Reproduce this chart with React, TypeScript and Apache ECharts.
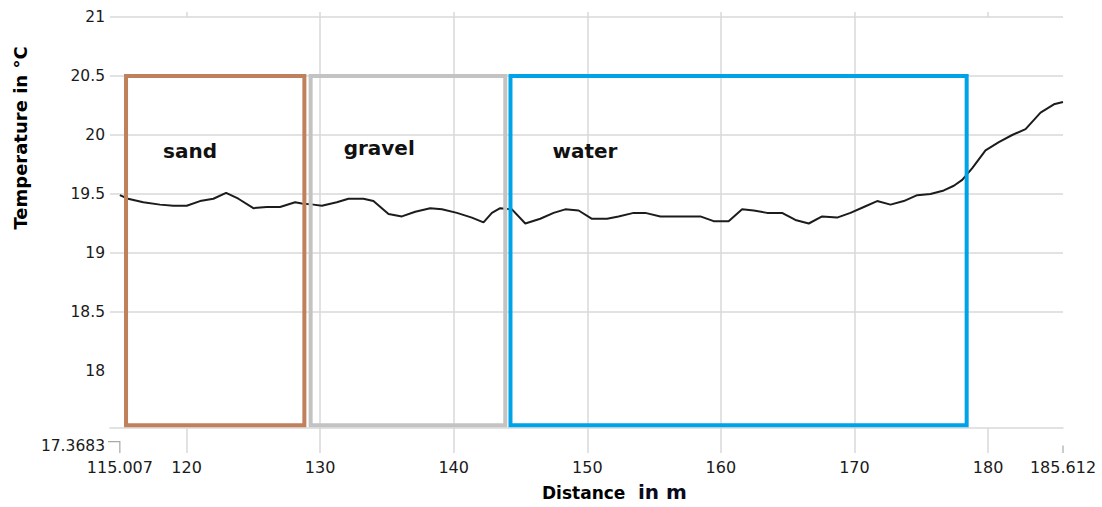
import React, { useEffect, useRef } from "react";
import * as echarts from "echarts";

// ---- data ----
const distance = [
  115.007, 115.62, 116.76, 118.01, 119.01, 120.01, 121.01, 122.01, 122.96, 123.88,
  125.0, 126.0, 127.0, 128.13, 128.63, 129.5, 130.13, 131.25, 132.12, 133.24,
  133.99, 135.12, 136.12, 137.12, 138.24, 139.12, 140.24, 141.36, 142.23, 142.86,
  143.48, 144.36, 145.36, 146.48, 147.48, 148.35, 149.35, 150.35, 151.48, 152.34,
  153.47, 154.34, 155.47, 156.46, 157.46, 158.46, 159.46, 160.58, 161.59, 162.46,
  163.46, 164.58, 165.58, 166.58, 167.58, 168.7, 169.7, 170.7, 171.7, 172.7,
  173.69, 174.7, 175.69, 176.69, 177.44, 178.07, 178.82, 179.81, 180.81, 181.81,
  182.81, 183.93, 184.93, 185.612,
];
const temperature = [
  19.49, 19.46, 19.43, 19.41, 19.4, 19.4, 19.44, 19.46, 19.51, 19.46,
  19.38, 19.39, 19.39, 19.43, 19.42, 19.41, 19.4, 19.43, 19.46, 19.46,
  19.44, 19.33, 19.31, 19.35, 19.38, 19.37, 19.34, 19.3, 19.26, 19.34,
  19.38, 19.37, 19.25, 19.29, 19.34, 19.37, 19.36, 19.29, 19.29, 19.31,
  19.34, 19.34, 19.31, 19.31, 19.31, 19.31, 19.27, 19.27, 19.37, 19.36,
  19.34, 19.34, 19.28, 19.25, 19.31, 19.3, 19.34, 19.39, 19.44, 19.41,
  19.44, 19.49, 19.5, 19.53, 19.57, 19.62, 19.72, 19.87, 19.94, 20.0,
  20.05, 20.19, 20.26, 20.28,
];
const xTicks = [120, 130, 140, 150, 160, 170, 180];
const yTicks = [18, 18.5, 19, 19.5, 20, 20.5, 21];
const X_DATA_MIN = 115.007;
const X_DATA_MAX = 185.612;
const Y_DATA_MIN = 17.3683;
const X_AXIS_MIN = 114.27;
const X_AXIS_MAX = 185.612;
const Y_AXIS_MIN = 17.517;
const Y_AXIS_MAX = 21;

const zoneNames = ["sand", "gravel", "water"];
const zoneStart = [115.47, 129.29, 144.25];
const zoneEnd = [128.82, 143.86, 178.4];
const zoneTop = [20.5, 20.5, 20.5];
const zoneBottom = [17.54, 17.54, 17.54];

const yTitle = "Temperature in °C";
const xTitleA = "Distance";
const xTitleB = "in m";

// ---- styles ----
const zoneColors = ["#c0805c", "#c3c3c3", "#00a2e8"];
const zoneLabelDx = [37, 33, 42];
const zoneLabelDy = [75, 72, 75];
const GRID_COLOR = "#d9d9d9";
const FONT = "DejaVu Sans";
const TEXT_COLOR = "#1a1a1a";

export default function App() {
  const ref = useRef<HTMLDivElement>(null);

  useEffect(() => {
    document.body.style.margin = "0";
    const chart = echarts.init(ref.current!, null, { renderer: "svg" });
    const option: any = {
      animation: false,
      grid: { left: 110, right: 39, top: 17, bottom: 79 },
      xAxis: [
        {
          type: "value",
          min: X_AXIS_MIN,
          max: X_AXIS_MAX,
          axisLine: { show: true, lineStyle: { color: GRID_COLOR, width: 1.5 } },
          axisTick: {
            show: true,
            inside: false,
            length: 25,
            customValues: xTicks,
            lineStyle: { color: GRID_COLOR, width: 1.5 },
          },
          axisLabel: {
            customValues: xTicks,
            margin: 31,
            fontFamily: FONT,
            fontSize: 16,
            color: TEXT_COLOR,
          },
          splitLine: {
            show: true,
            showMinLine: false,
            showMaxLine: false,
            lineStyle: { color: GRID_COLOR, width: 1.5 },
          },
        },
        {
          type: "value",
          position: "top",
          min: X_AXIS_MIN,
          max: X_AXIS_MAX,
          axisLine: { show: false },
          axisTick: {
            show: true,
            inside: false,
            length: 5,
            customValues: xTicks,
            lineStyle: { color: GRID_COLOR, width: 1.5 },
          },
          axisLabel: { show: false },
          splitLine: { show: false },
        },
      ],
      yAxis: {
        type: "value",
        min: Y_AXIS_MIN,
        max: Y_AXIS_MAX,
        axisLine: { show: false },
        axisTick: { show: false, customValues: yTicks },
        axisLabel: {
          customValues: yTicks,
          margin: 5,
          fontFamily: FONT,
          fontSize: 15.5,
          color: TEXT_COLOR,
        },
        splitLine: {
          show: true,
          showMinLine: false,
          showMaxLine: true,
          lineStyle: { color: GRID_COLOR, width: 1.5 },
        },
      },
      series: [
        {
          type: "line",
          xAxisIndex: 0,
          yAxisIndex: 0,
          z: 2,
          showSymbol: false,
          symbol: "none",
          silent: true,
          lineStyle: { color: "#1c1c1c", width: 2 },
          data: distance.map((d, i) => [d, temperature[i]]),
        },
        {
          type: "custom",
          xAxisIndex: 0,
          yAxisIndex: 0,
          z: 5,
          silent: true,
          clip: false,
          data: zoneNames.map((_, i) => [zoneStart[i], zoneEnd[i], zoneTop[i], zoneBottom[i], i]),
          encode: { x: [0, 1], y: [2, 3] },
          renderItem: (_params: any, api: any) => {
            const i = api.value(4);
            const p0 = api.coord([api.value(0), api.value(2)]);
            const p1 = api.coord([api.value(1), api.value(3)]);
            return {
              type: "group",
              children: [
                {
                  type: "rect",
                  shape: { x: p0[0], y: p0[1], width: p1[0] - p0[0], height: p1[1] - p0[1] },
                  style: { fill: "none", stroke: zoneColors[i], lineWidth: 4 },
                },
                {
                  type: "text",
                  x: p0[0] + zoneLabelDx[i],
                  y: p0[1] + zoneLabelDy[i],
                  style: {
                    text: zoneNames[i],
                    fontFamily: FONT,
                    fontWeight: "bold",
                    fontSize: 20,
                    fill: "#111",
                    align: "left",
                    verticalAlign: "middle",
                  },
                },
              ],
            };
          },
        },
      ],
    };
    chart.setOption(option);

    const xMinPx = chart.convertToPixel({ xAxisIndex: 0 }, X_DATA_MIN) as number;
    const xMaxPx = chart.convertToPixel({ xAxisIndex: 0 }, X_DATA_MAX) as number;
    const gridLeftPx = chart.convertToPixel({ xAxisIndex: 0 }, X_AXIS_MIN) as number;
    const yMinPx = chart.convertToPixel({ yAxisIndex: 0 }, Y_DATA_MIN) as number;
    const axisPx = chart.convertToPixel({ yAxisIndex: 0 }, Y_AXIS_MIN) as number;
    const yTopPx = chart.convertToPixel({ yAxisIndex: 0 }, Y_AXIS_MAX) as number;
    const tickEnd = axisPx + 25;
    const labelTop = axisPx + 31;
    const bracketColor = "#a8a8a8";

    chart.setOption({
      graphic: [
        {
          type: "text",
          x: gridLeftPx - 5,
          y: yMinPx,
          style: {
            text: String(Y_DATA_MIN),
            fontFamily: FONT,
            fontSize: 15.5,
            fill: TEXT_COLOR,
            align: "right",
            verticalAlign: "middle",
          },
        },
        {
          type: "polyline",
          shape: {
            points: [
              [gridLeftPx - 2, yMinPx - 4],
              [xMinPx, yMinPx - 4],
              [xMinPx, tickEnd],
            ],
          },
          style: { stroke: bracketColor, lineWidth: 1.2, fill: "none" },
        },
        {
          type: "text",
          x: xMinPx,
          y: labelTop,
          style: {
            text: String(X_DATA_MIN),
            fontFamily: FONT,
            fontSize: 16,
            fill: TEXT_COLOR,
            align: "center",
            verticalAlign: "top",
          },
        },
        {
          type: "line",
          shape: { x1: xMaxPx, y1: yMinPx, x2: xMaxPx, y2: tickEnd },
          style: { stroke: bracketColor, lineWidth: 1.2 },
        },
        {
          type: "text",
          x: xMaxPx,
          y: labelTop,
          style: {
            text: String(X_DATA_MAX),
            fontFamily: FONT,
            fontSize: 16,
            fill: TEXT_COLOR,
            align: "center",
            verticalAlign: "top",
          },
        },
        {
          type: "text",
          x: 20,
          y: yTopPx + 121,
          rotation: Math.PI / 2,
          style: {
            text: yTitle,
            fontFamily: FONT,
            fontWeight: "bold",
            fontSize: 18,
            fill: "#000",
            align: "center",
            verticalAlign: "middle",
          },
        },
        {
          type: "text",
          x: 542,
          y: 493,
          style: {
            text: xTitleA,
            fontFamily: FONT,
            fontWeight: "bold",
            fontSize: 17,
            fill: "#000",
            align: "left",
            verticalAlign: "middle",
          },
        },
        {
          type: "text",
          x: 638,
          y: 492,
          style: {
            text: xTitleB,
            fontFamily: FONT,
            fontWeight: "bold",
            fontSize: 20,
            fill: "#0a0a1e",
            align: "left",
            verticalAlign: "middle",
          },
        },
      ],
    });

    return () => chart.dispose();
  }, []);

  return <div ref={ref} style={{ width: 1102, height: 507 }} />;
}
